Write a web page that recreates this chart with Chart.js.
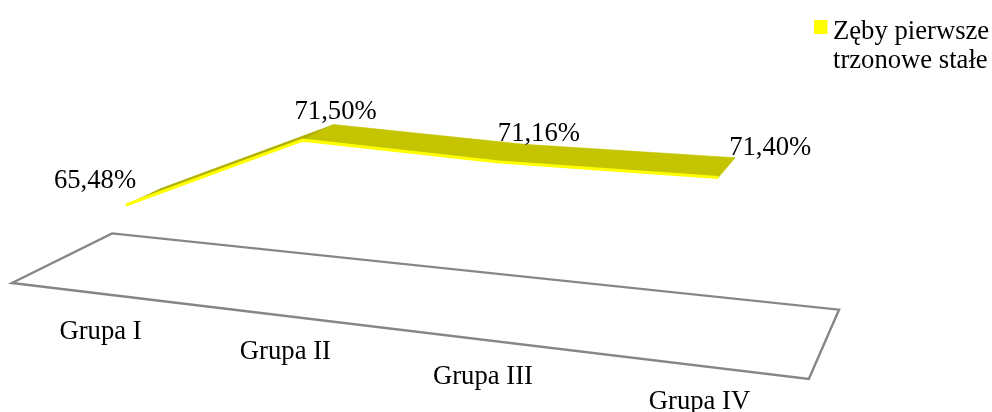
<!DOCTYPE html>
<html lang="pl">
<head>
<meta charset="utf-8">
<title>Zęby pierwsze trzonowe stałe</title>
<style>
  html, body { margin: 0; padding: 0; background: #ffffff; }
  canvas { display: block; }
</style>
<script src="https://cdn.jsdelivr.net/npm/chart.js@4"></script>
</head>
<body>
<canvas id="chart" width="992" height="412"></canvas>
<script>
// Chart data
const categories = ['Grupa I', 'Grupa II', 'Grupa III', 'Grupa IV'];
const percentValues = [65.48, 71.50, 71.16, 71.40];
const seriesName = 'Zęby pierwsze trzonowe stałe';
const legendLines = ['Zęby pierwsze', 'trzonowe stałe'];
const axisMin = 60;
const axisMax = 72;

// Nudges for text placed around the projected marks
const valueLabelShift = [[-31, -24], [33, -28], [40, -28], [52, -30]];
const groupLabelShift = [[3, 38], [3, 37], [-3, 37], [-12, 35]];

const SERIF = '"Liberation Serif", "Times New Roman", serif';
const FONT_SIZE = 26.67;
const YELLOW = '#ffff00';
const OLIVE = '#c4c400';
const OLIVE_DARK = '#b0b000';
const FRAME = '#868686';

// Perspective camera of the 3D line chart: u = category index, v = value, w = depth
const VANISH = { x: 1082, y: -247 };
function project(u, v, w) {
  const s = 1 / (1 - 0.05 * u);
  let x = 126 + 167.8 * u * s;
  let y = 205 + 0.11 * (x - 126) - 13.3 * s * (v - 65.48);
  x += w * (VANISH.x - x);
  y += w * (VANISH.y - y);
  return { x, y };
}
const ribbonDepth = u => 0.037 + 0.0032 * u;
const floorFrontDepth = u => -0.0298 + 0.0038 * u;

const perspective = {
  id: 'perspective',
  // Move every point from the flat scales onto the projected plane
  afterDatasetsUpdate(chart) {
    const xs = chart.scales.x, ys = chart.scales.y;
    chart.data.datasets.forEach((ds, d) => {
      chart.getDatasetMeta(d).data.forEach(pt => {
        const u = xs.getValueForPixel(pt.x);
        const v = ys.getValueForPixel(pt.y);
        const p = project(u, v, ds.depthLayer ? ribbonDepth(u) : 0);
        pt.x = p.x;
        pt.y = p.y;
      });
    });
  },
  beforeDatasetsDraw(chart) {
    const { ctx } = chart;
    const v = chart.scales.y.min;

    // Floor of the 3D plot
    const corners = [
      project(-0.5, v, -0.031),
      project(3.4, v, -0.017),
      project(3.4, v, 0.0955),
      project(-0.5, v, 0.0655)
    ];
    ctx.save();
    ctx.beginPath();
    corners.forEach((c, i) => i ? ctx.lineTo(c.x, c.y) : ctx.moveTo(c.x, c.y));
    ctx.closePath();
    ctx.lineWidth = 2.4;
    ctx.lineJoin = 'miter';
    ctx.strokeStyle = FRAME;
    ctx.stroke();

    // Top face of the ribbon, one quad per segment between front and back points
    const front = chart.getDatasetMeta(0).data;
    const back = chart.getDatasetMeta(1).data;
    for (let i = 0; i < front.length - 1; i++) {
      ctx.beginPath();
      ctx.moveTo(front[i].x, front[i].y);
      ctx.lineTo(front[i + 1].x, front[i + 1].y);
      ctx.lineTo(back[i + 1].x, back[i + 1].y);
      ctx.lineTo(back[i].x, back[i].y);
      ctx.closePath();
      const shade = i === 0 ? OLIVE_DARK : OLIVE;
      ctx.fillStyle = shade;
      ctx.strokeStyle = shade;
      ctx.lineWidth = 0.6;
      ctx.fill();
      ctx.stroke();
    }
    ctx.restore();
  },
  afterDatasetsDraw(chart) {
    const { ctx } = chart;
    const front = chart.getDatasetMeta(0).data;
    const v = chart.scales.y.min;
    ctx.save();
    ctx.font = FONT_SIZE + 'px ' + SERIF;
    ctx.fillStyle = '#000000';
    ctx.textBaseline = 'middle';

    // Value labels and category names
    ctx.textAlign = 'center';
    percentValues.forEach((val, i) => {
      const text = val.toFixed(2).replace('.', ',') + '%';
      ctx.fillText(text, front[i].x + valueLabelShift[i][0], front[i].y + valueLabelShift[i][1]);
    });
    categories.forEach((name, i) => {
      const p = project(i, v, floorFrontDepth(i));
      ctx.fillText(name, p.x + groupLabelShift[i][0], p.y + groupLabelShift[i][1]);
    });

    // Two-line legend in the upper right corner
    ctx.fillStyle = YELLOW;
    ctx.fillRect(814, 20, 13.5, 14);
    ctx.fillStyle = '#000000';
    ctx.textAlign = 'left';
    legendLines.forEach((line, i) => ctx.fillText(line, 833, 32 + i * 29));
    ctx.restore();
  }
};

new Chart(document.getElementById('chart'), {
  type: 'line',
  data: {
    labels: categories,
    datasets: [
      {
        label: seriesName,
        data: percentValues,
        borderColor: YELLOW,
        backgroundColor: YELLOW,
        borderWidth: 3,
        pointRadius: 0,
        tension: 0,
        fill: false,
        clip: false
      },
      {
        label: seriesName + ' (top)',
        data: percentValues,
        depthLayer: true,
        borderWidth: 0,
        borderColor: OLIVE,
        backgroundColor: OLIVE,
        pointRadius: 0,
        tension: 0,
        fill: false,
        clip: false
      }
    ]
  },
  options: {
    responsive: false,
    animation: false,
    layout: { padding: 0 },
    scales: {
      x: { display: false },
      y: { display: false, min: axisMin, max: axisMax }
    },
    plugins: {
      tooltip: { enabled: false },
      legend: { display: false }
    }
  },
  plugins: [perspective]
});
</script>
</body>
</html>
